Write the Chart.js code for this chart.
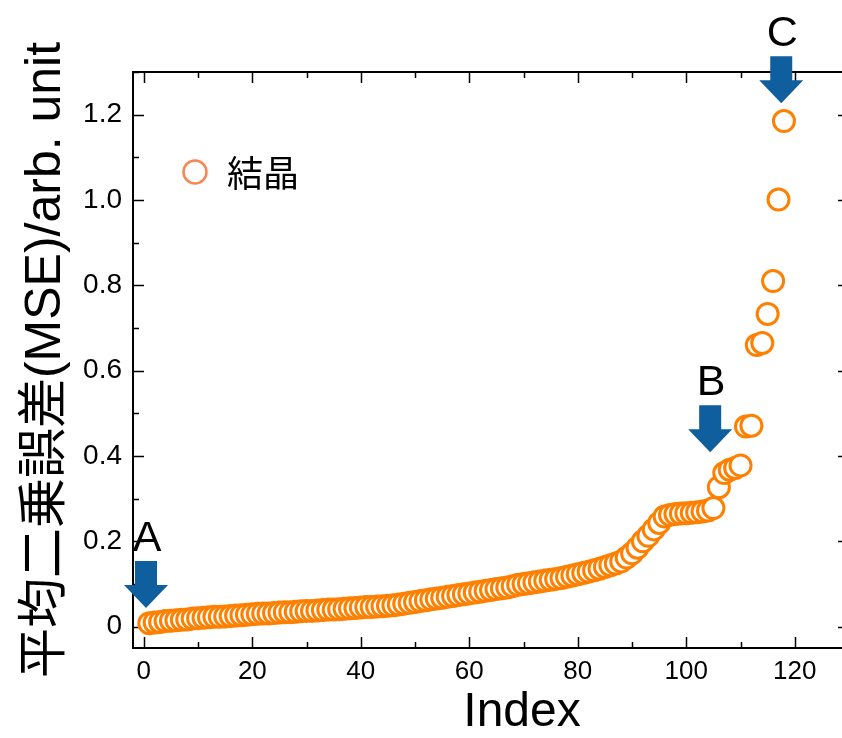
<!DOCTYPE html>
<html lang="ja">
<head>
<meta charset="utf-8">
<title>MSE</title>
<script src="https://cdn.jsdelivr.net/npm/chart.js@4.4.1/dist/chart.umd.min.js"></script>
<style>
  html, body { margin: 0; padding: 0; background: #fff; overflow: hidden; }
  #mseChart { display: block; }
</style>
</head>
<body>
<canvas id="mseChart" width="842" height="738"></canvas>
<script>
// sorted MSE per sample, index 1..118
const mseValues = [
  0.008, 0.010, 0.011, 0.013, 0.014, 0.015, 0.016, 0.017, 0.019, 0.020,
  0.021, 0.022, 0.023, 0.023, 0.024, 0.025, 0.026, 0.027, 0.028, 0.029,
  0.030, 0.031, 0.031, 0.032, 0.033, 0.034, 0.034, 0.035, 0.036, 0.037,
  0.037, 0.038, 0.039, 0.040, 0.040, 0.041, 0.042, 0.043, 0.044, 0.045,
  0.046, 0.046, 0.047, 0.048, 0.049, 0.050, 0.052, 0.054, 0.056, 0.058,
  0.060, 0.062, 0.064, 0.066, 0.068, 0.070, 0.072, 0.074, 0.076, 0.078,
  0.080, 0.082, 0.084, 0.086, 0.088, 0.090, 0.092, 0.095, 0.098, 0.100,
  0.102, 0.104, 0.106, 0.108, 0.110, 0.112, 0.114, 0.117, 0.120, 0.123,
  0.126, 0.129, 0.132, 0.136, 0.140, 0.144, 0.148, 0.153, 0.162, 0.172,
  0.185, 0.200, 0.213, 0.228, 0.243, 0.258, 0.262, 0.264, 0.265, 0.266,
  0.267, 0.268, 0.270, 0.272, 0.278, 0.327, 0.360, 0.368, 0.372, 0.378,
  0.469, 0.471, 0.660, 0.665, 0.733, 0.810, 1.001, 1.185
];
const firstIndex = 1;

const xTickValues = [0, 20, 40, 60, 80, 100, 120];
const yTickValues = [0, 0.2, 0.4, 0.6, 0.8, 1.0, 1.2];
const xMinorStep = 10;
const yMinorStep = 0.1;
// the box's right edge lies a little past the canvas; only its ticks peek in
const frameXMax = 130;

// marked samples: arrow tip position (data units) and letter
const markerLabels = ['A', 'B', 'C'];
const markerX = [0.4, 104.4, 117.5];
const markerTipY = [0.044, 0.409, 1.227];

const seriesLabel = '結晶';
const xTitle = 'Index';
const yTitle = '平均二乗誤差(MSE)/arb. unit';

const ORANGE = '#ff8000';
const LEGEND_ORANGE = '#f8864f';
const BLUE = '#0f5e9e';
const SANS = '"Liberation Sans", Arial, "Noto Sans CJK JP", sans-serif';

const points = mseValues.map((v, i) => ({ x: i + firstIndex, y: v }));

// box frame with inward major/minor ticks on all four sides
const framePlugin = {
  id: 'frame',
  beforeDatasetsDraw(chart) {
    const { ctx, chartArea: a, scales: { x, y } } = chart;
    const right = x.getPixelForValue(frameXMax);
    ctx.save();
    ctx.strokeStyle = '#000';
    ctx.lineWidth = 2;
    ctx.strokeRect(a.left, a.top, right - a.left, a.bottom - a.top);
    ctx.lineWidth = 1.5;
    ctx.beginPath();
    for (let v = 0; v <= frameXMax; v += xMinorStep) {
      const px = Math.round(x.getPixelForValue(v)) + 0.5;
      const len = v % 20 === 0 ? 11 : 6;
      ctx.moveTo(px, a.bottom); ctx.lineTo(px, a.bottom - len);
      ctx.moveTo(px, a.top); ctx.lineTo(px, a.top + len);
    }
    for (let k = 0; k * yMinorStep <= y.max + 1e-9; k++) {
      const v = k * yMinorStep;
      const py = Math.round(y.getPixelForValue(v)) + 0.5;
      const len = k % 2 === 0 ? 11 : 6;
      ctx.moveTo(a.left, py); ctx.lineTo(a.left + len, py);
      ctx.moveTo(right, py); ctx.lineTo(right - len, py);
    }
    ctx.stroke();
    ctx.restore();
  },
  afterDatasetsDraw(chart) {
    const { ctx, scales: { x, y } } = chart;
    ctx.save();
    // block arrows pointing down at the marked samples
    markerX.forEach((mx, i) => {
      const cx = x.getPixelForValue(mx);
      const tip = y.getPixelForValue(markerTipY[i]);
      ctx.fillStyle = BLUE;
      ctx.beginPath();
      ctx.moveTo(cx - 11, tip - 47);
      ctx.lineTo(cx + 11, tip - 47);
      ctx.lineTo(cx + 11, tip - 23);
      ctx.lineTo(cx + 22, tip - 23);
      ctx.lineTo(cx, tip);
      ctx.lineTo(cx - 22, tip - 23);
      ctx.lineTo(cx - 11, tip - 23);
      ctx.closePath();
      ctx.fill();
      ctx.fillStyle = '#000';
      ctx.font = '43px ' + SANS;
      ctx.textAlign = 'center';
      ctx.textBaseline = 'middle';
      ctx.fillText(markerLabels[i], cx + 1, tip - 69);
    });

    // legend entry inside the plot
    ctx.strokeStyle = LEGEND_ORANGE;
    ctx.lineWidth = 2.5;
    ctx.beginPath();
    ctx.arc(195, 172, 11.5, 0, Math.PI * 2);
    ctx.stroke();
    ctx.fillStyle = '#000';
    ctx.font = '36px "Noto Sans CJK JP", sans-serif';
    ctx.textAlign = 'left';
    ctx.textBaseline = 'middle';
    ctx.fillText(seriesLabel, 227, 173);

    // axis titles
    ctx.font = '48px "Liberation Sans", sans-serif';
    ctx.textAlign = 'center';
    ctx.fillText(xTitle, 522, 713);
    ctx.translate(46, 360);
    ctx.rotate(-Math.PI / 2);
    ctx.font = '50px ' + SANS;
    ctx.fillText(yTitle, 0, 0);
    ctx.restore();
  }
};

new Chart(document.getElementById('mseChart'), {
  type: 'scatter',
  data: {
    datasets: [{
      label: seriesLabel,
      data: points,
      pointRadius: 10.5,
      pointHoverRadius: 10.5,
      pointBorderWidth: 3,
      pointBorderColor: ORANGE,
      pointBackgroundColor: '#ffffff',
      showLine: false
    }]
  },
  options: {
    responsive: false,
    devicePixelRatio: 1,
    animation: false,
    events: [],
    // no extra room for the big markers, the axes sizes are fixed below
    layout: { autoPadding: false, padding: { top: 72, right: 0, left: 0, bottom: 0 } },
    plugins: { legend: { display: false }, tooltip: { enabled: false } },
    scales: {
      x: {
        type: 'linear',
        min: -2,
        max: 128.7,
        grid: { display: false, drawTicks: false },
        border: { display: false },
        afterFit(s) {
          s.height = 90;
          s.paddingLeft = 0;
          s.paddingRight = 0;
        },
        afterBuildTicks(s) { s.ticks = xTickValues.map(v => ({ value: v })); },
        ticks: {
          color: '#000',
          padding: 8,
          maxRotation: 0,
          autoSkip: false,
          font: { family: SANS, size: 26 },
          callback: v => String(v)
        }
      },
      y: {
        type: 'linear',
        min: -0.05,
        max: 1.3,
        grid: { display: false, drawTicks: false },
        border: { display: false },
        afterFit(s) { s.width = 133; },
        afterBuildTicks(s) { s.ticks = yTickValues.map(v => ({ value: v })); },
        ticks: {
          color: '#000',
          padding: 11,
          font: { family: SANS, size: 28 },
          callback: v => (v === 0 ? '0' : v.toFixed(1))
        }
      }
    }
  },
  plugins: [framePlugin]
});
</script>
</body>
</html>
